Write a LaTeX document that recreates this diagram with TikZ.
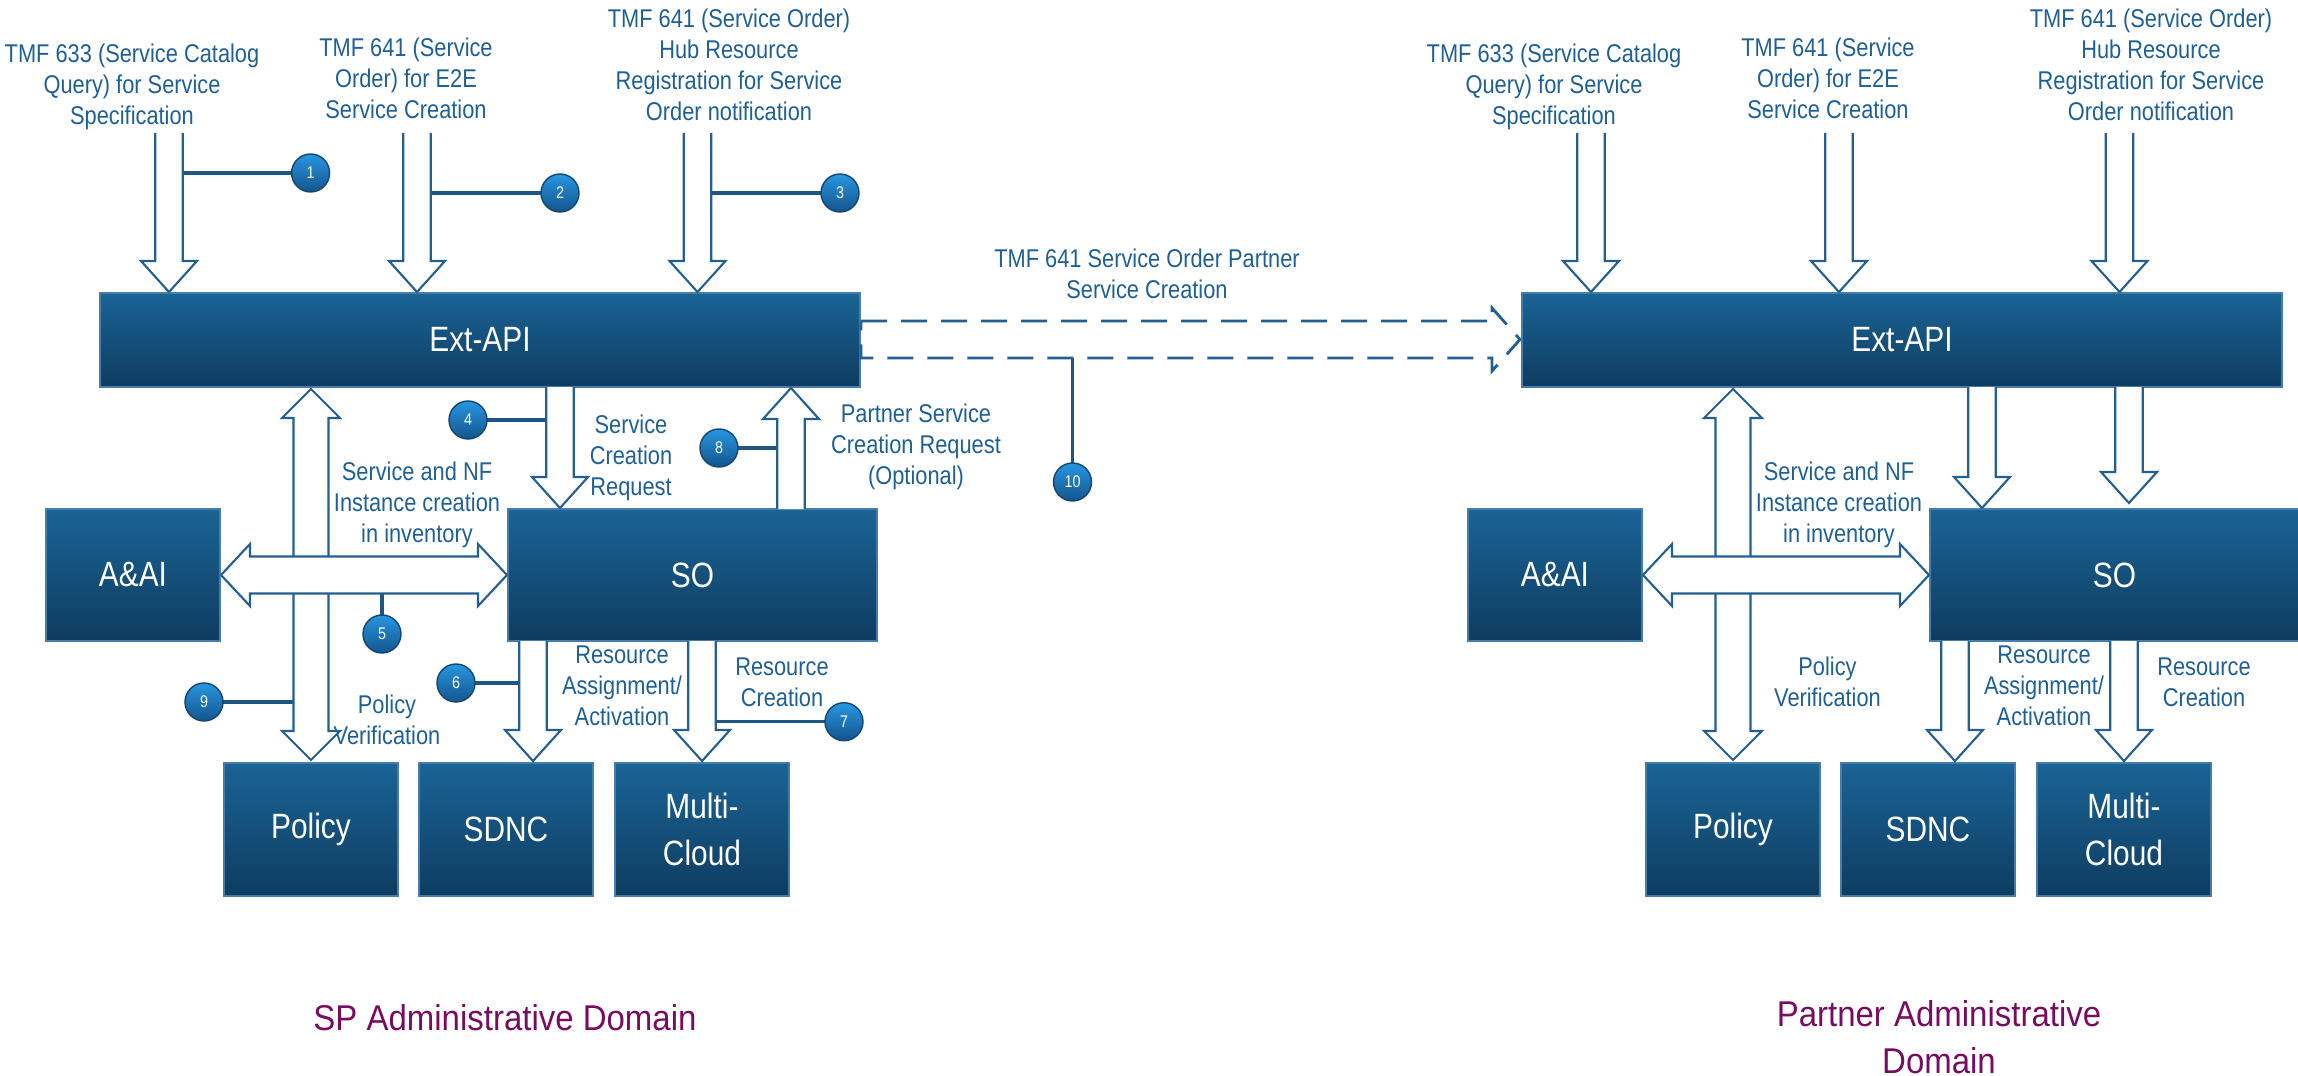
\documentclass[tikz,border=0pt]{standalone}
\usepackage{fontspec}
\setmainfont{Liberation Sans}[FakeStretch=0.85]
\newfontfamily\domainfont{Liberation Sans}[FakeStretch=0.92]
\usetikzlibrary{backgrounds}

\definecolor{boxtop}{RGB}{26,100,150}
\definecolor{boxbot}{RGB}{15,60,96}
\definecolor{boxedge}{RGB}{70,125,170}
\definecolor{labelblue}{RGB}{30,96,150}
\definecolor{arrowblue}{RGB}{35,95,145}
\definecolor{balltop}{RGB}{40,150,225}
\definecolor{ballbot}{RGB}{20,85,140}
\definecolor{balledge}{RGB}{18,70,115}
\definecolor{leaderblue}{RGB}{30,85,130}
\definecolor{domainpurple}{RGB}{120,12,96}

\tikzset{
  blk/.style={rectangle, draw=boxedge, line width=0.4pt, top color=boxtop,
    bottom color=boxbot, text=white, font=\fontsize{10}{13.4}\selectfont,
    align=center, inner sep=0pt},
  hollow/.style={draw=arrowblue, fill=white, line width=0.6pt, line join=miter},
  lbl/.style={text=labelblue, font=\fontsize{7.3}{8.8}\selectfont, align=center, inner sep=0pt},
  ball/.style={circle, minimum size=3.8mm, inner sep=0pt, top color=balltop,
    bottom color=ballbot, draw=balledge, line width=0.4pt, text=white,
    font=\fontsize{4.8}{5}\selectfont},
  leader/.style={draw=leaderblue, line width=0.9pt},
  dasharrow/.style={draw=arrowblue, line width=0.8pt, dash pattern=on 2.6mm off 1.4mm, line join=miter},
  domainlbl/.style={text=domainpurple, font=\domainfont\fontsize{10.2}{13.4}\selectfont,
    align=center, inner sep=0pt},
}

% component block given by its corners (x1,y1)-(x2,y2)
\newcommand\blockbox[6]{%
  \node[blk, minimum width={(#4-#2)*0.1mm}, minimum height={(#5-#3)*0.1mm}]
    (#1) at ({(#2+#4)/2},{(#3+#5)/2}) {#6};}
% hollow block arrows: x, tail y, tip y
\newcommand\arrowdown[3]{%
  \draw[hollow] ({#1-13.75},#2) -- ({#1-13.75},{#3-31}) -- ({#1-28},{#3-31}) -- (#1,#3)
    -- ({#1+28},{#3-31}) -- ({#1+13.75},{#3-31}) -- ({#1+13.75},#2);}
\newcommand\arrowup[3]{%
  \draw[hollow] ({#1-13.75},#2) -- ({#1-13.75},{#3+31}) -- ({#1-28},{#3+31}) -- (#1,#3)
    -- ({#1+28},{#3+31}) -- ({#1+13.75},{#3+31}) -- ({#1+13.75},#2);}
% double-headed vertical arrow: x, top tip, bottom tip
\newcommand\arrowvv[3]{%
  \draw[hollow] ({#1-17.5},{#2+29}) -- ({#1-29},{#2+29}) -- (#1,#2) -- ({#1+29},{#2+29})
    -- ({#1+17.5},{#2+29}) -- ({#1+17.5},{#3-29}) -- ({#1+29},{#3-29}) -- (#1,#3)
    -- ({#1-29},{#3-29}) -- ({#1-17.5},{#3-29}) -- cycle;}
% double-headed horizontal arrow: y, left tip, right tip
\newcommand\arrowhh[3]{%
  \draw[hollow] ({#2+29},{#1-18.5}) -- ({#2+29},{#1-31}) -- (#2,#1) -- ({#2+29},{#1+31})
    -- ({#2+29},{#1+18.5}) -- ({#3-29},{#1+18.5}) -- ({#3-29},{#1+31}) -- (#3,#1)
    -- ({#3-29},{#1-31}) -- ({#3-29},{#1-18.5}) -- cycle;}

% parts shared by both administrative domains
\newcommand\domainparts[1]{%
  \node[lbl] (#1q1) at (132,87) {TMF 633 (Service Catalog\\Query) for Service\\Specification};
  \node[lbl] (#1q2) at (406,78) {TMF 641 (Service\\Order) for E2E\\Service Creation};
  \node[lbl] (#1q3) at (729,64.5) {TMF 641 (Service Order)\\Hub Resource\\Registration for Service\\Order notification};
  \node[lbl] (#1inv) at (417,505) {Service and NF\\Instance creation\\in inventory};
  \node[lbl] (#1ra) at (622,686) {Resource\\Assignment/\\Activation};
  \node[lbl] (#1rc) at (782,682) {Resource\\Creation};
  \blockbox{#1ext}{100}{293}{860}{387}{Ext-API}
  \blockbox{#1aai}{46}{509}{220}{641}{A\&AI}
  \blockbox{#1so}{508}{509}{877}{641}{SO}
  \blockbox{#1pol}{224}{763}{398}{896}{Policy}
  \blockbox{#1sdnc}{419}{763}{593}{896}{SDNC}
  \blockbox{#1mc}{615}{763}{789}{896}{Multi-\\Cloud}
  \arrowdown{169}{133}{292}
  \arrowdown{417}{133}{292}
  \arrowdown{697.5}{133}{292}
  \arrowdown{560}{387}{508}
  \arrowdown{533}{641}{761}
  \arrowdown{702}{641}{761}
  \arrowvv{311}{389}{760}
  \arrowhh{575}{221}{507}
}

\begin{document}
\begin{tikzpicture}[x=0.1mm,y=-0.1mm]
\useasboundingbox (0,0) rectangle (2298,1076);

% ---------------- SP administrative domain ----------------
\node[lbl] (lpv) at (387,720) {Policy\\Verification};
\node[lbl] (lscr) at (631,458) {Service\\Creation\\Request};
\node[lbl] (lpscr) at (916,447) {Partner Service\\Creation Request\\(Optional)};
\domainparts{l}
\arrowup{791}{509}{388}

% partner order across domains
\node[lbl] (xlbl) at (1147,274) {TMF 641 Service Order Partner\\Service Creation};
\draw[dasharrow] (861,321) -- (1492,321) -- (1492,308) -- (1520,339.5)
  -- (1492,371) -- (1492,358) -- (861,358) -- cycle;

% numbered steps
\node[ball] (c1) at (310.6,173) {1};
\node[ball] (c2) at (560,193) {2};
\node[ball] (c3) at (840,193) {3};
\node[ball] (c4) at (468,420) {4};
\node[ball] (c5) at (382,634) {5};
\node[ball] (c6) at (456,683) {6};
\node[ball] (c7) at (844,721.7) {7};
\node[ball] (c8) at (719,448) {8};
\node[ball] (c9) at (204,702) {9};
\node[ball] (c10) at (1072.5,482) {10};
\begin{scope}[on background layer]
  \draw[leader] (c1.center) -- (182.5,173);
  \draw[leader] (c2.center) -- (430.5,193);
  \draw[leader] (c3.center) -- (711.25,193);
  \draw[leader] (c4.center) -- (546.25,420);
  \draw[leader] (c5.center) -- (382,593.5);
  \draw[leader] (c6.center) -- (519.25,683);
  \draw[leader] (c7.center) -- (715.75,721.7);
  \draw[leader] (c8.center) -- (777.25,448);
  \draw[leader] (c9.center) -- (293.5,702);
  \draw[leader] (c10.center) -- (1072.5,358);
\end{scope}

\node[domainlbl] (spdom) at (505,1017.7) {SP Administrative Domain};

% ---------------- Partner administrative domain ----------------
\begin{scope}[xshift=142.2mm]
  \node[lbl] (rpv) at (405.5,682) {Policy\\Verification};
  \domainparts{r}
  \arrowdown{707}{387}{503}
\end{scope}
\node[domainlbl] (ptdom) at (1939,1037) {Partner Administrative\\Domain};

\end{tikzpicture}
\end{document}
